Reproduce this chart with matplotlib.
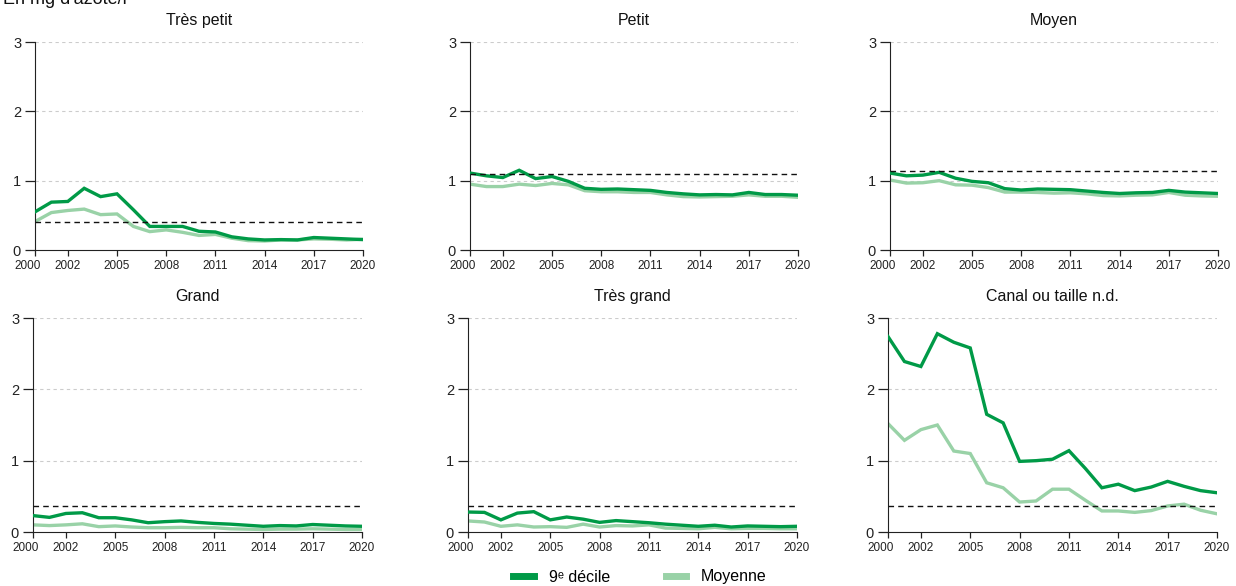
import matplotlib
matplotlib.use("Agg")
import matplotlib.pyplot as plt
import matplotlib.transforms as mtrans
from matplotlib.lines import Line2D

plt.rcParams['font.family'] = ['Liberation Sans', 'DejaVu Sans']

years = list(range(2000, 2021))
xtick_years = [2000, 2002, 2005, 2008, 2011, 2014, 2017, 2020]

titles = ["Très petit", "Petit", "Moyen", "Grand", "Très grand", "Canal ou taille n.d."]

# 9e décile
decile_tres_petit = [0.55, 0.69, 0.70, 0.89, 0.77, 0.81, 0.58, 0.34, 0.34, 0.34, 0.27,
                     0.26, 0.19, 0.16, 0.145, 0.15, 0.145, 0.18, 0.17, 0.16, 0.15]
decile_petit = [1.11, 1.07, 1.045, 1.15, 1.03, 1.06, 0.99, 0.89, 0.875, 0.88, 0.87,
                0.86, 0.83, 0.81, 0.795, 0.80, 0.795, 0.83, 0.80, 0.80, 0.79]
decile_moyen = [1.11, 1.07, 1.08, 1.12, 1.035, 0.99, 0.97, 0.885, 0.865, 0.88, 0.875,
                0.87, 0.85, 0.83, 0.815, 0.825, 0.83, 0.86, 0.835, 0.825, 0.815]
decile_grand = [0.23, 0.205, 0.26, 0.27, 0.20, 0.20, 0.17, 0.13, 0.145, 0.155, 0.135,
                0.12, 0.11, 0.095, 0.08, 0.09, 0.085, 0.105, 0.095, 0.085, 0.08]
decile_tres_grand = [0.28, 0.275, 0.17, 0.265, 0.285, 0.17, 0.21, 0.18, 0.135, 0.16, 0.145,
                     0.13, 0.11, 0.095, 0.08, 0.095, 0.07, 0.085, 0.08, 0.075, 0.08]
decile_canal = [2.74, 2.39, 2.32, 2.78, 2.66, 2.58, 1.65, 1.53, 0.99, 1.00, 1.02,
                1.14, 0.89, 0.62, 0.67, 0.58, 0.63, 0.71, 0.64, 0.58, 0.55]

# Moyenne
moy_tres_petit = [0.41, 0.54, 0.57, 0.59, 0.51, 0.52, 0.34, 0.265, 0.29, 0.255, 0.21,
                  0.225, 0.17, 0.135, 0.13, 0.145, 0.145, 0.16, 0.155, 0.145, 0.155]
moy_petit = [0.95, 0.915, 0.915, 0.95, 0.93, 0.96, 0.94, 0.855, 0.84, 0.84, 0.83,
             0.83, 0.795, 0.77, 0.765, 0.77, 0.775, 0.795, 0.775, 0.775, 0.76]
moy_moyen = [1.01, 0.965, 0.97, 1.00, 0.94, 0.935, 0.90, 0.835, 0.835, 0.83, 0.82,
             0.825, 0.81, 0.785, 0.78, 0.79, 0.795, 0.83, 0.79, 0.78, 0.775]
moy_grand = [0.10, 0.09, 0.10, 0.115, 0.075, 0.085, 0.07, 0.06, 0.06, 0.065, 0.06,
             0.06, 0.045, 0.04, 0.035, 0.04, 0.04, 0.045, 0.04, 0.035, 0.035]
moy_tres_grand = [0.155, 0.14, 0.08, 0.10, 0.07, 0.075, 0.065, 0.11, 0.07, 0.09, 0.085,
                  0.10, 0.055, 0.05, 0.045, 0.065, 0.045, 0.05, 0.05, 0.045, 0.045]
moy_canal = [1.52, 1.285, 1.435, 1.50, 1.135, 1.10, 0.69, 0.62, 0.42, 0.435, 0.60,
             0.60, 0.445, 0.295, 0.295, 0.275, 0.30, 0.365, 0.39, 0.305, 0.255]

deciles = [decile_tres_petit, decile_petit, decile_moyen, decile_grand, decile_tres_grand, decile_canal]
moyennes = [moy_tres_petit, moy_petit, moy_moyen, moy_grand, moy_tres_grand, moy_canal]

# seuils (lignes pointillées noires)
seuils = [0.40, 1.10, 1.14, 0.37, 0.37, 0.37]

dark = "#009a47"
light = "#99d2a7"

W, H = 1236, 586
fig = plt.figure(figsize=(W / 100, H / 100), dpi=100)

# axes boxes in pixels: left, top, right, bottom
boxes = [(35, 42, 363, 250), (470, 42, 798, 250), (890, 42, 1218, 250),
         (33, 318, 362, 532), (468, 318, 797, 532), (888, 318, 1217, 532)]

for i in range(6):
    l, t, r, b = boxes[i]
    ax = fig.add_axes([l / W, 1 - b / H, (r - l) / W, (b - t) / H])
    ax.set_xlim(2000, 2020)
    ax.set_ylim(0, 3)
    for yv in [1, 2, 3]:
        ax.axhline(yv, color="#cccccc", lw=0.8, ls=(0, (3, 3)), zorder=0)
    ax.plot(years, moyennes[i], color=light, lw=2.4, solid_joinstyle="miter", zorder=2)
    ax.plot(years, deciles[i], color=dark, lw=2.4, solid_joinstyle="miter", zorder=3)
    ax.axhline(seuils[i], color="#111111", lw=1.0, ls=(0, (4, 3)), zorder=4)

    ax.spines["top"].set_visible(False)
    ax.spines["right"].set_visible(False)
    ax.spines["left"].set_color("#222222")
    ax.spines["bottom"].set_color("#222222")
    ax.set_yticks([0, 1, 2, 3])
    ax.set_yticklabels(["0", "1", "2", "3"])
    ax.set_xticks(xtick_years)
    ax.set_xticklabels([str(y) for y in xtick_years])
    ax.tick_params(axis="y", length=7, width=0.9, pad=3, labelsize=10.5, colors="#222222")
    ax.tick_params(axis="x", length=4, width=0.9, pad=3, labelsize=8.5, colors="#222222")
    lab0 = ax.get_xticklabels()[0]
    lab0.set_transform(lab0.get_transform() + mtrans.ScaledTranslation(-7 / 100, 0, fig.dpi_scale_trans))
    ax.set_title(titles[i], fontsize=11.5, pad=12, color="#111111")

fig.text(3 / W, 1 - 4 / H, "En mg d'azote/l", fontsize=13, ha="left", va="baseline", color="#111111")

handles = [Line2D([], [], color=dark, lw=5), Line2D([], [], color=light, lw=5)]
fig.legend(handles, ["9ᵉ décile", "Moyenne"], loc="center", bbox_to_anchor=(640 / W, 1 - 577 / H),
           ncol=2, frameon=False, fontsize=11.5, handlelength=1.3, handletextpad=0.9, columnspacing=3.5)

fig.savefig("out.png", dpi=100)
